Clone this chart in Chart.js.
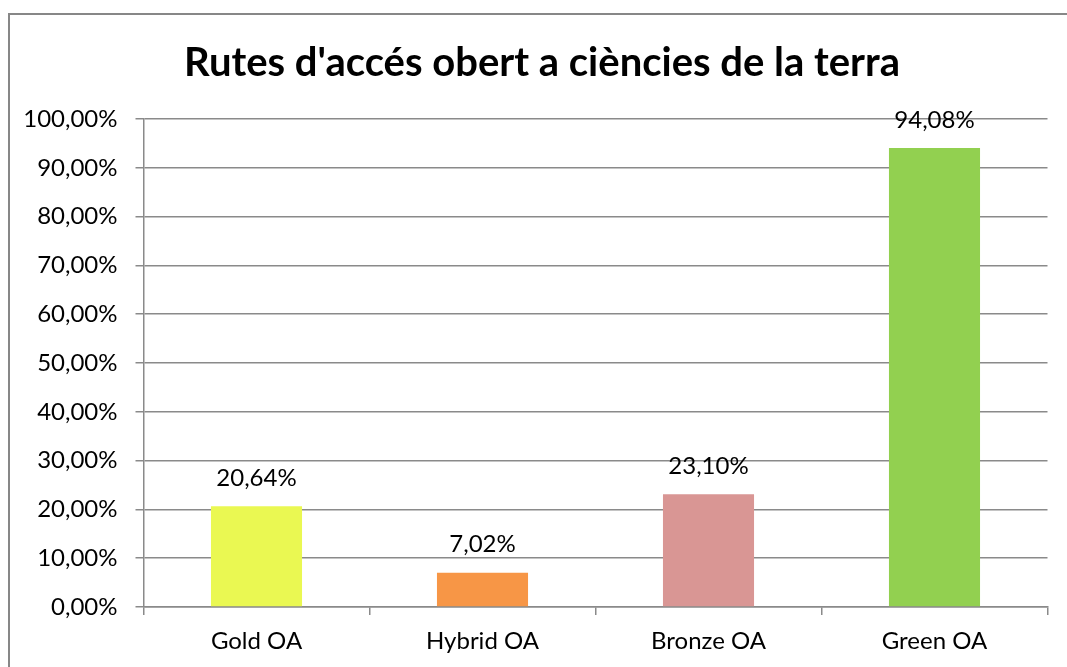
<!DOCTYPE html>
<html lang="ca">
<head>
  <meta charset="UTF-8" />
  <title>Rutes d'accés obert a ciències de la terra</title>
  <script src="https://cdn.jsdelivr.net/npm/chart.js"></script>
  <style>
    body { margin: 0; background: #fff; overflow: hidden; }
    /* chart frame runs off the right and bottom edges */
    .frame {
      position: absolute; left: 8px; top: 13px;
      width: 1100px; height: 700px;
      border: 2px solid #878787;
    }
    .wrap { position: absolute; left: 0; top: 0; width: 1067px; height: 667px; }
    canvas { display: block; }
  </style>
</head>
<body>
  <div class="frame"></div>
  <div class="wrap"><canvas id="oaChart" width="1067" height="667"></canvas></div>

  <script>
    const categories = ['Gold OA', 'Hybrid OA', 'Bronze OA', 'Green OA'];
    const shares = [20.64, 7.02, 23.10, 94.08];
    const barColors = ['#eaf852', '#f79646', '#d99694', '#92d050'];
    const chartTitle = "Rutes d'accés obert a ciències de la terra";

    const FONT = 'Lato, "Open Sans", sans-serif';
    const GRID = '#8a8a8a';

    const pct = v => Number(v).toFixed(2).replace('.', ',') + '%';

    // title drawn by hand so it can sit off-centre like the original
    const titlePlugin = {
      id: 'titleText',
      afterDraw(chart) {
        const ctx = chart.ctx;
        ctx.save();
        ctx.font = `bold 40px ${FONT}`;
        ctx.fillStyle = '#000';
        ctx.textAlign = 'center';
        ctx.textBaseline = 'alphabetic';
        ctx.fillText(chartTitle, 542, 76);
        ctx.restore();
      }
    };

    // value labels above each bar
    const valueLabels = {
      id: 'valueLabels',
      afterDatasetsDraw(chart) {
        const ctx = chart.ctx;
        const meta = chart.getDatasetMeta(0);
        ctx.save();
        ctx.font = `24px ${FONT}`;
        ctx.fillStyle = '#000';
        ctx.textAlign = 'center';
        ctx.textBaseline = 'middle';
        meta.data.forEach((bar, i) => {
          ctx.fillText(pct(shares[i]), bar.x, bar.y - 28);
        });
        ctx.restore();
      }
    };

    new Chart(document.getElementById('oaChart'), {
      type: 'bar',
      data: {
        labels: categories,
        datasets: [{
          data: shares,
          backgroundColor: barColors,
          borderWidth: 0,
          barPercentage: 0.403,
          categoryPercentage: 1
        }]
      },
      options: {
        responsive: false,
        animation: false,
        layout: { padding: { top: 119, right: 19.5, bottom: 0, left: 0 } },
        plugins: {
          legend: { display: false },
          title: { display: false },
          tooltip: { enabled: false }
        },
        scales: {
          x: {
            offset: true,
            grid: {
              offset: true,
              drawOnChartArea: false,
              drawTicks: true,
              tickLength: 8,
              color: GRID,
              lineWidth: 1.5
            },
            border: { color: GRID, width: 1.5 },
            ticks: { color: '#000', font: { family: FONT, size: 24 }, padding: 12 },
            afterFit(scale) { scale.height = 60; }
          },
          y: {
            min: 0,
            max: 100,
            ticks: {
              stepSize: 10,
              color: '#000',
              font: { family: FONT, size: 24 },
              padding: 18,
              callback: v => pct(v)
            },
            grid: { color: GRID, lineWidth: 1.5, tickLength: 8 },
            border: { color: GRID, width: 1.5 },
            afterFit(scale) { scale.width = 143.5; }
          }
        }
      },
      plugins: [titlePlugin, valueLabels]
    });
  </script>
</body>
</html>
